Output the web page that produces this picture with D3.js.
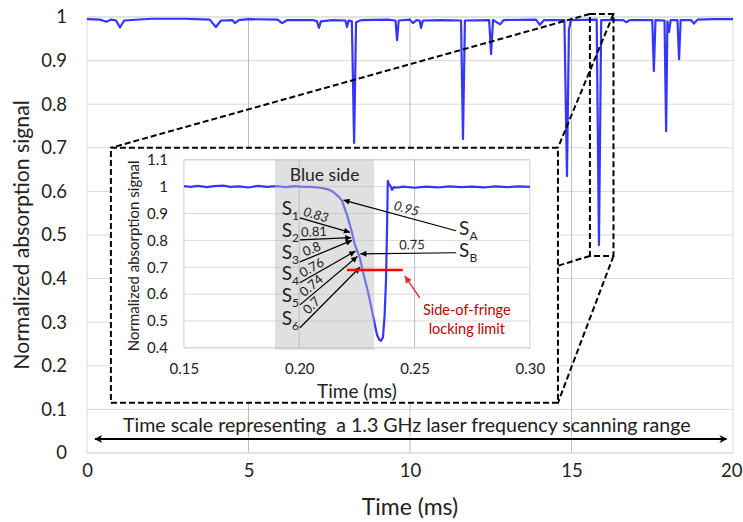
<!DOCTYPE html>
<html>
<head>
<meta charset="utf-8">
<script src="https://cdn.jsdelivr.net/npm/d3@7"></script>
<style>
  body { margin: 0; background: #fff; }
  svg { display: block; font-family: Lato, "Open Sans", sans-serif; }
</style>
</head>
<body>
<div id="chart"></div>
<script>
// ---- main trace (full 20 ms scan) ----
const mainTime = [0, 0.4, 0.6, 0.75, 0.9, 1.02, 1.15, 2.0, 3.0, 3.8, 3.99, 4.15, 4.5, 4.58, 4.7, 5.0,
  5.9, 6.04, 6.2, 7.0, 7.12, 7.18, 7.24, 7.6, 8.0, 8.05, 8.1, 8.2, 8.27, 8.33, 8.5, 9.3, 9.55, 9.6,
  9.65, 10.0, 10.09, 10.2, 10.3, 10.34, 10.4, 11.0, 11.58, 11.64, 11.7, 12.45, 12.51, 12.57, 12.79,
  12.9, 13.9, 14.02, 14.15, 14.78, 14.86, 14.92, 14.98, 15.78, 15.85, 15.92, 16.6, 16.7, 16.8, 17.5,
  17.55, 17.6, 17.88, 17.93, 17.97, 18.02, 18.07, 18.28, 18.33, 18.38, 18.7, 18.79, 18.9, 19.4, 20];
const mainSignal = [0.995, 0.994, 0.989, 0.994, 0.992, 0.976, 0.992, 0.996, 0.996, 0.994, 0.977, 0.992, 0.993, 0.986, 0.993, 0.995,
  0.994, 0.986, 0.993, 0.993, 0.990, 0.975, 0.990, 0.993, 0.992, 0.977, 0.992, 0.990, 0.711, 0.988, 0.993, 0.994, 0.992, 0.947,
  0.992, 0.994, 0.986, 0.993, 0.992, 0.975, 0.992, 0.993, 0.992, 0.720, 0.992, 0.993, 0.915, 0.993, 0.983,
  0.993, 0.994, 0.982, 0.993, 0.993, 0.635, 0.970, 0.993, 0.994, 0.477, 0.993, 0.993, 0.988, 0.993, 0.993,
  0.876, 0.993, 0.992, 0.738, 0.990, 0.966, 0.993, 0.993, 0.903, 0.993, 0.993, 0.985, 0.994, 0.995, 0.995];
const mainXTicks = [0, 5, 10, 15, 20];
const mainYTicks = [0, 0.1, 0.2, 0.3, 0.4, 0.5, 0.6, 0.7, 0.8, 0.9, 1];

// ---- inset trace (zoom on one fringe) ----
const insetTime = [0.150, 0.153, 0.156, 0.160, 0.163, 0.167, 0.170, 0.174, 0.178, 0.182, 0.186, 0.190,
  0.194, 0.198, 0.2003, 0.205, 0.209, 0.2125, 0.2146, 0.2168, 0.2185, 0.2207, 0.2228, 0.2241, 0.2263,
  0.2276, 0.2298, 0.2319, 0.2337, 0.2347, 0.2354, 0.2363, 0.2370, 0.2376, 0.2380, 0.2384, 0.2390,
  0.2396, 0.2402, 0.2410, 0.2423, 0.245, 0.250, 0.255, 0.260, 0.265, 0.270, 0.275, 0.280, 0.285,
  0.290, 0.295, 0.300];
const insetSignal = [1.002, 0.999, 1.003, 0.998, 1.002, 1.004, 0.999, 1.001, 0.997, 1.003, 0.999, 1.002,
  0.998, 1.002, 1.000, 0.999, 0.996, 0.990, 0.981, 0.965, 0.948, 0.895, 0.832, 0.784, 0.735,
  0.683, 0.609, 0.523, 0.449, 0.430, 0.426, 0.440, 0.520, 0.650, 0.820, 1.022, 1.008,
  1.002, 0.988, 0.998, 0.996, 1.000, 0.996, 1.000, 0.997, 1.001, 0.998, 1.000, 0.997, 1.001,
  0.998, 1.001, 0.999];
const insetXTicks = [0.15, 0.20, 0.25, 0.30];
const insetYTicks = [0.4, 0.5, 0.6, 0.7, 0.8, 0.9, 1, 1.1];
const blueSide = [0.1895, 0.2325];

// slope set-points S1..S6 and SA, SB
const slopeNames = ['1', '2', '3', '4', '5', '6'];
const slopeValues = [0.83, 0.81, 0.8, 0.76, 0.74, 0.7];
const slopeLabels = ['0.83', '0.81', '0.8', '0.76', '0.74', '0.7'];
const slopeTails = [0.884, 0.802, 0.720, 0.642, 0.560, 0.475];
const sideNames = ['A', 'B'];
const sideValues = [0.95, 0.75];
const sideLabels = ['0.95', '0.75'];
const sideTails = [0.836, 0.754];
const lockLimit = 0.69;
const lockRange = [0.2207, 0.2449];

// zoom window and inset box in main-chart units
const zoomWindowX = [15.57, 16.3];
const zoomWindowY = [0.452, 1.007];
const insetBoxX = [0.74, 14.58];
const insetBoxY = [0.115, 0.70];

const width = 743;
const height = 522;
const margin = { top: 17, right: 10, bottom: 69, left: 87 };

const svg = d3.select('#chart')
  .append('svg')
  .attr('width', width)
  .attr('height', height);

const defs = svg.append('defs');
defs.append('marker')
  .attr('id', 'head')
  .attr('viewBox', '0 0 10 10')
  .attr('refX', 10).attr('refY', 5)
  .attr('markerUnits', 'userSpaceOnUse')
  .attr('markerWidth', 7).attr('markerHeight', 6)
  .attr('orient', 'auto-start-reverse')
  .append('path').attr('d', 'M0,0L10,5L0,10z').attr('fill', '#000');
defs.append('marker')
  .attr('id', 'bighead')
  .attr('viewBox', '0 0 10 10')
  .attr('refX', 9).attr('refY', 5)
  .attr('markerUnits', 'userSpaceOnUse')
  .attr('markerWidth', 10).attr('markerHeight', 8)
  .attr('orient', 'auto-start-reverse')
  .append('path').attr('d', 'M0,0L10,5L0,10L3,5z').attr('fill', '#000');
defs.append('marker')
  .attr('id', 'redhead')
  .attr('viewBox', '0 0 10 10')
  .attr('refX', 10).attr('refY', 5)
  .attr('markerUnits', 'userSpaceOnUse')
  .attr('markerWidth', 9).attr('markerHeight', 7)
  .attr('orient', 'auto-start-reverse')
  .append('path').attr('d', 'M0,0L10,5L0,10z').attr('fill', '#ee2222');

// ---- main scales ----
const x = d3.scaleLinear().domain([0, 20]).range([margin.left, width - margin.right]);
const y = d3.scaleLinear().domain([0, 1]).range([height - margin.bottom, margin.top]);

// gridlines
svg.append('g')
  .selectAll('line')
  .data(mainYTicks)
  .join('line')
    .attr('x1', x(0)).attr('x2', x(20))
    .attr('y1', d => y(d)).attr('y2', d => y(d))
    .attr('stroke', '#d9d9d9');
svg.append('g')
  .selectAll('line')
  .data(mainXTicks.slice(1, -1))
  .join('line')
    .attr('x1', d => x(d)).attr('x2', d => x(d))
    .attr('y1', y(0)).attr('y2', y(1))
    .attr('stroke', '#bdbdbd');
svg.append('rect')
  .attr('x', x(0)).attr('y', y(1))
  .attr('width', x(20) - x(0)).attr('height', y(0) - y(1))
  .attr('fill', 'none').attr('stroke', '#d9d9d9');

// axes (labels only)
svg.append('g')
  .attr('transform', `translate(0,${y(0)})`)
  .call(d3.axisBottom(x).tickValues(mainXTicks).tickSize(0).tickPadding(11).tickFormat(d3.format('d')))
  .call(g => g.select('.domain').remove())
  .call(g => g.selectAll('.tick:last-of-type text').attr('text-anchor', 'end').attr('x', 9))
  .attr('font-family', null)
  .attr('font-size', 18.5)
  .selectAll('text').attr('fill', '#222');
svg.append('g')
  .attr('transform', `translate(${x(0)},0)`)
  .call(d3.axisLeft(y).tickValues(mainYTicks).tickSize(0).tickPadding(20).tickFormat(d => String(+d.toFixed(1))))
  .call(g => g.select('.domain').remove())
  .attr('font-family', null)
  .attr('font-size', 18.5)
  .selectAll('text').attr('fill', '#222');

svg.append('text')
  .attr('x', x(10)).attr('y', 515)
  .attr('text-anchor', 'middle')
  .attr('font-size', 23).attr('fill', '#222')
  .text('Time (ms)');
svg.append('text')
  .attr('transform', `translate(29,${(y(0) + y(1)) / 2}) rotate(-90)`)
  .attr('text-anchor', 'middle')
  .attr('font-size', 21.2).attr('fill', '#222')
  .text('Normalized absorption signal');

// main signal
const mainPoints = mainTime.map((t, i) => [t, mainSignal[i]]);
svg.append('path')
  .datum(mainPoints)
  .attr('fill', 'none')
  .attr('stroke', '#3535ff')
  .attr('stroke-width', 2.2)
  .attr('stroke-linejoin', 'round')
  .attr('d', d3.line().x(d => x(d[0])).y(d => y(d[1])));

// zoom connectors
const dash = '6,3';
const bx0 = x(insetBoxX[0]), bx1 = x(insetBoxX[1]);
const by0 = y(insetBoxY[1]), by1 = y(insetBoxY[0]);
const zx0 = x(zoomWindowX[0]), zx1 = x(zoomWindowX[1]);
const zy0 = y(zoomWindowY[1]), zy1 = y(zoomWindowY[0]);
const connectors = [
  [zx0, zy0, bx0, by0],
  [zx1, zy0, bx1, by0],
  [zx0, zy1, bx0, by1],
  [zx1, zy1, bx1, by1]
];
svg.append('g')
  .selectAll('line')
  .data(connectors)
  .join('line')
    .attr('x1', d => d[0]).attr('y1', d => d[1])
    .attr('x2', d => d[2]).attr('y2', d => d[3])
    .attr('stroke', '#000').attr('stroke-width', 2)
    .attr('stroke-dasharray', dash);
svg.append('rect')
  .attr('x', zx0).attr('y', zy0)
  .attr('width', zx1 - zx0).attr('height', zy1 - zy0)
  .attr('fill', 'none').attr('stroke', '#000').attr('stroke-width', 2)
  .attr('stroke-dasharray', dash);

// ---- inset ----
const inset = svg.append('g');
inset.append('rect')
  .attr('x', bx0).attr('y', by0)
  .attr('width', bx1 - bx0).attr('height', by1 - by0)
  .attr('fill', '#fff').attr('stroke', '#000').attr('stroke-width', 2)
  .attr('stroke-dasharray', dash);

const ix = d3.scaleLinear().domain([0.15, 0.30]).range([bx0 + 73, bx1 - 28]);
const iy = d3.scaleLinear().domain([0.4, 1.1]).range([by1 - 55, by0 + 12]);

inset.append('g')
  .selectAll('line')
  .data(insetYTicks)
  .join('line')
    .attr('x1', ix(0.15)).attr('x2', ix(0.30))
    .attr('y1', d => iy(d)).attr('y2', d => iy(d))
    .attr('stroke', '#d9d9d9');
inset.append('g')
  .selectAll('line')
  .data(insetXTicks.slice(1, -1))
  .join('line')
    .attr('x1', d => ix(d)).attr('x2', d => ix(d))
    .attr('y1', iy(0.4)).attr('y2', iy(1.1))
    .attr('stroke', '#bdbdbd');
inset.append('rect')
  .attr('x', ix(0.15)).attr('y', iy(1.1))
  .attr('width', ix(0.30) - ix(0.15)).attr('height', iy(0.4) - iy(1.1))
  .attr('fill', 'none').attr('stroke', '#d0d0d0');

inset.append('g')
  .attr('transform', `translate(0,${iy(0.4)})`)
  .call(d3.axisBottom(ix).tickValues(insetXTicks).tickSize(0).tickPadding(15).tickFormat(d3.format('.2f')))
  .call(g => g.select('.domain').remove())
  .attr('font-family', null)
  .attr('font-size', 15)
  .selectAll('text').attr('fill', '#222');
inset.append('g')
  .attr('transform', `translate(${ix(0.15)},0)`)
  .call(d3.axisLeft(iy).tickValues(insetYTicks).tickSize(0).tickPadding(16).tickFormat(d => String(+d.toFixed(1))))
  .call(g => g.select('.domain').remove())
  .attr('font-family', null)
  .attr('font-size', 15)
  .selectAll('text').attr('fill', '#222');

inset.append('text')
  .attr('x', (ix(0.15) + ix(0.30)) / 2).attr('y', by1 - 5)
  .attr('text-anchor', 'middle')
  .attr('font-size', 19).attr('fill', '#222')
  .text('Time (ms)');
inset.append('text')
  .attr('transform', `translate(${bx0 + 28},${(iy(0.4) + iy(1.1)) / 2 + 2}) rotate(-90)`)
  .attr('text-anchor', 'middle')
  .attr('font-size', 15).attr('fill', '#222')
  .text('Normalized absorption signal');

const insetPoints = insetTime.map((t, i) => [t, insetSignal[i]]);
inset.append('path')
  .datum(insetPoints)
  .attr('fill', 'none')
  .attr('stroke', '#3535ff')
  .attr('stroke-width', 2.2)
  .attr('stroke-linejoin', 'round')
  .attr('d', d3.line().x(d => ix(d[0])).y(d => iy(d[1])));

// blue side shading (on top, semi transparent)
inset.append('rect')
  .attr('x', ix(blueSide[0])).attr('y', iy(1.1))
  .attr('width', ix(blueSide[1]) - ix(blueSide[0]))
  .attr('height', iy(0.4) - iy(1.1) + 2)
  .attr('fill', '#bebebe').attr('fill-opacity', 0.47);
inset.append('text')
  .attr('x', (ix(blueSide[0]) + ix(blueSide[1])) / 2).attr('y', iy(1.1) + 21)
  .attr('text-anchor', 'middle')
  .attr('font-size', 17.5).attr('fill', '#222')
  .text('Blue side');

// time where the falling edge crosses a level
function edgeTime(v) {
  for (let i = 1; i < insetTime.length; i++) {
    const a = insetSignal[i - 1], b = insetSignal[i];
    if (insetTime[i] > 0.205 && a >= v && b < v) {
      return insetTime[i - 1] + (a - v) / (a - b) * (insetTime[i] - insetTime[i - 1]);
    }
  }
  return 0.22;
}

const slopeTailT = 0.2003;
slopeValues.forEach((v, i) => {
  const x1 = ix(slopeTailT), y1 = iy(slopeTails[i]);
  const x2 = ix(edgeTime(v)) - 2, y2 = iy(v);
  inset.append('line')
    .attr('x1', x1).attr('y1', y1).attr('x2', x2).attr('y2', y2)
    .attr('stroke', '#000').attr('stroke-width', 1.2)
    .attr('marker-end', 'url(#head)');
  const ang = Math.atan2(y2 - y1, x2 - x1) * 180 / Math.PI;
  const f = 0.28;
  inset.append('text')
    .attr('transform', `translate(${x1 + f * (x2 - x1)},${y1 + f * (y2 - y1)}) rotate(${ang})`)
    .attr('y', -3)
    .attr('text-anchor', 'middle')
    .attr('font-size', 13)
    .attr('font-style', i === 0 ? 'italic' : 'normal')
    .attr('fill', '#222')
    .text(slopeLabels[i]);
  const lab = inset.append('text')
    .attr('x', x1 - 1).attr('y', y1 - 3)
    .attr('text-anchor', 'end')
    .attr('fill', '#222');
  lab.append('tspan').attr('font-size', 19).text('S');
  lab.append('tspan').attr('font-size', 12).attr('dy', 5).text(slopeNames[i]);
});

const sideTailT = 0.268;
sideValues.forEach((v, i) => {
  const x1 = ix(sideTailT), y1 = iy(sideTails[i]);
  const x2 = ix(edgeTime(v)) + 2, y2 = iy(v);
  inset.append('line')
    .attr('x1', x1).attr('y1', y1).attr('x2', x2).attr('y2', y2)
    .attr('stroke', '#000').attr('stroke-width', 1.2)
    .attr('marker-end', 'url(#head)');
  const ang = Math.atan2(y1 - y2, x1 - x2) * 180 / Math.PI;
  const f = 0.54;
  inset.append('text')
    .attr('transform', `translate(${x2 + f * (x1 - x2)},${y2 + f * (y1 - y2)}) rotate(${ang})`)
    .attr('y', -4)
    .attr('text-anchor', 'middle')
    .attr('font-size', 13)
    .attr('font-style', i === 0 ? 'italic' : 'normal')
    .attr('fill', '#222')
    .text(sideLabels[i]);
  const lab = inset.append('text')
    .attr('x', x1 + 3).attr('y', y1 + 4)
    .attr('fill', '#222');
  lab.append('tspan').attr('font-size', 19).text('S');
  lab.append('tspan').attr('font-size', 12).attr('dy', 5).text(sideNames[i]);
});

// side-of-fringe locking limit
inset.append('line')
  .attr('x1', ix(lockRange[0])).attr('x2', ix(lockRange[1]))
  .attr('y1', iy(lockLimit)).attr('y2', iy(lockLimit))
  .attr('stroke', '#ff0000').attr('stroke-width', 2.5);
inset.append('line')
  .attr('x1', ix(lockRange[1]) + 17).attr('y1', iy(lockLimit) + 28)
  .attr('x2', ix(lockRange[1]) + 2).attr('y2', iy(lockLimit) + 6)
  .attr('stroke', '#ee2222').attr('stroke-width', 1.3)
  .attr('marker-end', 'url(#redhead)');
inset.append('text')
  .attr('x', ix(lockRange[1]) + 64).attr('y', iy(lockLimit) + 45)
  .attr('text-anchor', 'middle')
  .attr('font-size', 14.5).attr('fill', '#c00000')
  .text('Side-of-fringe');
inset.append('text')
  .attr('x', ix(lockRange[1]) + 64).attr('y', iy(lockLimit) + 64)
  .attr('text-anchor', 'middle')
  .attr('font-size', 14.5).attr('fill', '#c00000')
  .text('locking limit');

// scanning range arrow
svg.append('line')
  .attr('x1', x(0.25)).attr('x2', x(19.8))
  .attr('y1', y(0.032)).attr('y2', y(0.032))
  .attr('stroke', '#000').attr('stroke-width', 2)
  .attr('marker-start', 'url(#bighead)')
  .attr('marker-end', 'url(#bighead)');
svg.append('text')
  .attr('x', x(9.9)).attr('y', y(0.049))
  .attr('text-anchor', 'middle')
  .attr('font-size', 19.6).attr('fill', '#222')
  .attr('xml:space', 'preserve')
  .text('Time scale representing  a 1.3 GHz laser frequency scanning range');

svg.node();
</script>
</body>
</html>
